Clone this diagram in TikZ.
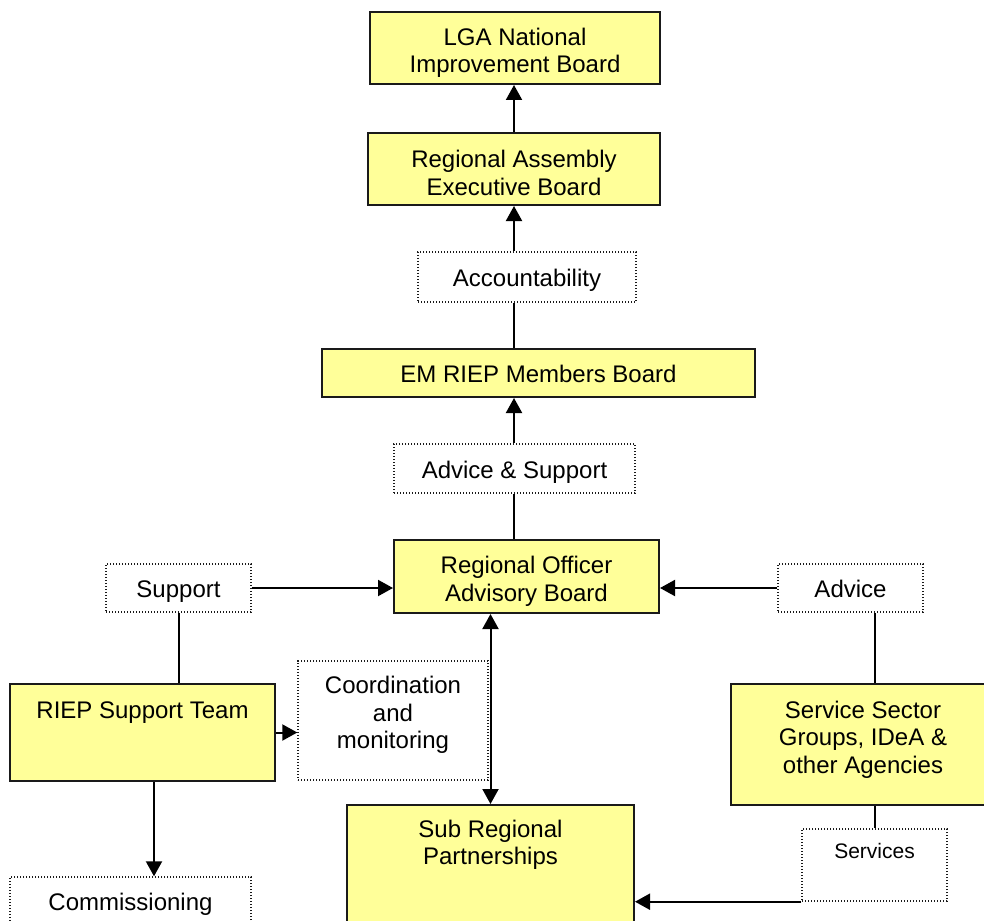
\documentclass[tikz,border=0pt]{standalone}
\usepackage{fontspec}
\setmainfont{Liberation Sans}
\usetikzlibrary{arrows.meta}
\definecolor{boxyellow}{HTML}{FFFF99}
\definecolor{edge}{HTML}{1A1A1A}
\tikzset{
  ybox/.style={draw=edge, line width=2pt, fill=boxyellow, inner sep=0pt, align=center, font=\fontsize{24}{27.5}\selectfont},
  dbox/.style={draw=edge, line width=1.4pt, dash pattern=on 1.4pt off 1.6pt, fill=white, inner sep=0pt, align=center, font=\fontsize{24}{27.5}\selectfont},
  one/.style={text height=19.2pt, text depth=0pt},
  txt/.style={inner sep=0pt, align=center, font=\fontsize{24}{27.5}\selectfont},
  conn/.style={draw=black, line width=2pt},
  arr/.style={conn, -{Triangle[length=15pt,width=16pt]}},
  darr/.style={conn, {Triangle[length=15pt,width=16pt]}-{Triangle[length=15pt,width=16pt]}}
}
\begin{document}
\begin{tikzpicture}[x=1pt,y=-1pt]
\useasboundingbox (0,0) rectangle (984,920);
\clip (0,0) rectangle (984,920);
% boxes
\node[ybox, minimum width=290pt, minimum height=72pt] (lga) at (515,48) {};
\node[txt] (lgat) at (515,53) {LGA National\\Improvement Board};
\node[ybox, minimum width=292pt, minimum height=72pt] (ra) at (514,169) {};
\node[txt] (rat) at (514,173) {Regional Assembly\\Executive Board};
\node[dbox, one, minimum width=218pt, minimum height=50pt] (acc) at (527,277) {Accountability};
\node[ybox, one, minimum width=433pt, minimum height=48pt] (em) at (538.5,373) {EM RIEP Members Board};
\node[dbox, one, minimum width=241pt, minimum height=49pt] (advs) at (514.5,468.5) {Advice \& Support};
\node[ybox, minimum width=265pt, minimum height=73pt] (roab) at (526.5,576.5) {};
\node[txt] (roabt) at (526.5,581.5) {Regional Officer\\Advisory Board};
\node[dbox, one, minimum width=145pt, minimum height=48pt] (support) at (178.5,588) {Support};
\node[dbox, one, minimum width=145pt, minimum height=48pt] (advice) at (850.5,588) {Advice};
\node[ybox, minimum width=265pt, minimum height=97pt] (riep) at (142.5,732.5) {};
\node[txt, one] (riept) at (142.5,708.5) {RIEP Support Team};
\node[dbox, minimum width=190pt, minimum height=119pt] (coord) at (393,720.5) {};
\node[txt] (coordt) at (393,715) {Coordination\\and\\monitoring};
\node[ybox, minimum width=264pt, minimum height=121pt] (ssg) at (863,744.5) {};
\node[txt] (ssgt) at (863,739.5) {Service Sector\\Groups, IDeA \&\\other Agencies};
\node[ybox, minimum width=287pt, minimum height=120pt] (srp) at (490.5,865) {};
\node[txt] (srpt) at (490.5,845) {Sub Regional\\Partnerships};
\node[dbox, one, minimum width=241pt, minimum height=48pt] (comm) at (130.5,901) {Commissioning};
\node[dbox, minimum width=145pt, minimum height=72pt] (serv) at (874.5,865) {};
\node[txt, font=\fontsize{21}{24}\selectfont] (servt) at (874.5,851) {Services};
\coordinate (cx) at (154,0);
% connectors
\draw[arr] (ra.north) -- (ra.north |- lga.south);
\draw[arr] (acc.north -| ra) -- (ra.south);
\draw[conn] (em.north -| ra) -- (acc.south -| ra);
\draw[arr] (advs.north -| ra) -- (em.south -| ra);
\draw[conn] (roab.north -| ra) -- (advs.south -| ra);
\draw[arr] (support.east) -- (support.east -| roab.west);
\draw[arr] (advice.west) -- (advice.west -| roab.east);
\draw[conn] (support.south) -- (support.south |- riep.north);
\draw[conn] (advice.south -| serv) -- (ssg.north -| serv);
\draw[conn] (ssg.south -| serv) -- (serv.north);
\draw[arr] (riep.east) -- (riep.east -| coord.west);
\draw[arr] (riep.south -| cx) -- (comm.north -| cx);
\draw[darr] (roab.south -| srp.north) -- (srp.north);
\draw[arr] (serv.south west) -- (serv.south west -| srp.east);
\end{tikzpicture}
\end{document}
